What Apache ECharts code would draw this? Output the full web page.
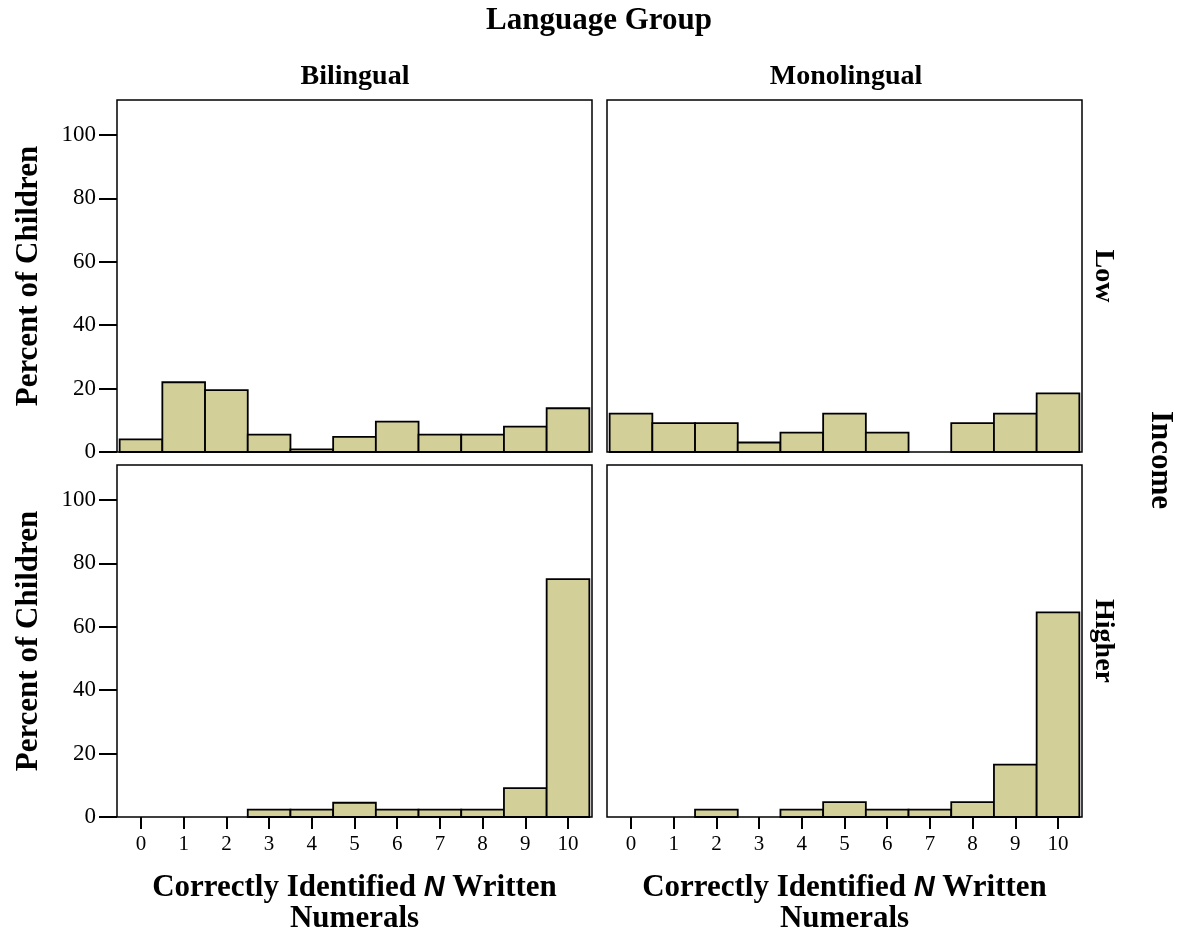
<!DOCTYPE html>
<html>
<head>
<meta charset="utf-8">
<script src="https://cdn.jsdelivr.net/npm/echarts@6/dist/echarts.min.js"></script>
<style>html,body{margin:0;padding:0;background:#fff;}#c{width:1177px;height:935px;}</style>
</head>
<body>
<div id="c"></div>
<script>
const categories = [0, 1, 2, 3, 4, 5, 6, 7, 8, 9, 10];
const bilingualLow = [4.0, 22.0, 19.5, 5.5, 0.8, 4.8, 9.6, 5.5, 5.5, 8.0, 13.8];
const monolingualLow = [12.1, 9.1, 9.1, 3.0, 6.1, 12.1, 6.1, 0, 9.1, 12.1, 18.5];
const bilingualHigher = [0, 0, 0, 2.3, 2.3, 4.5, 2.3, 2.3, 2.3, 9.1, 75.0];
const monolingualHigher = [0, 0, 2.3, 0, 2.3, 4.7, 2.3, 2.3, 4.7, 16.5, 64.5];
const yTicks = [0, 20, 40, 60, 80, 100];
const columnLabels = ['Bilingual', 'Monolingual'];
const rowLabels = ['Low', 'Higher'];

const SERIF = 'Liberation Serif';
const FILL = '#d3cf98';

const panels = [
  { data: bilingualLow, left: 117, top: 100, showY: true, showX: false },
  { data: monolingualLow, left: 607, top: 100, showY: false, showX: false },
  { data: bilingualHigher, left: 117, top: 465, showY: true, showX: true },
  { data: monolingualHigher, left: 607, top: 465, showY: false, showX: true }
];
const PW = 475, PH = 352;

const grids = [], xAxes = [], yAxes = [], series = [];
panels.forEach((p, i) => {
  grids.push({ left: p.left, top: p.top, width: PW, height: PH, show: true,
    borderColor: '#000', borderWidth: 1.5, backgroundColor: '#fff' });
  xAxes.push({
    type: 'value', gridIndex: i, min: -0.562, max: 10.562,
    axisLine: { show: false, onZero: false }, splitLine: { show: false },
    axisTick: { show: p.showX, length: 12, lineStyle: { color: '#000', width: 2 }, customValues: categories },
    axisLabel: { show: p.showX, customValues: categories, color: '#000', fontFamily: SERIF, fontSize: 21, margin: 17 },
    name: p.showX ? '{t|Correctly Identified }{n|N}{t| Written}\n{t|Numerals}' : '',
    nameLocation: 'middle', nameGap: 55,
    nameTextStyle: {
      rich: {
        t: { fontFamily: SERIF, fontWeight: 'bold', fontSize: 31, color: '#000', lineHeight: 31 },
        n: { fontFamily: 'Liberation Sans', fontWeight: 'bold', fontStyle: 'italic', fontSize: 29, color: '#000', lineHeight: 31 }
      }
    }
  });
  yAxes.push({
    type: 'value', gridIndex: i, min: 0, max: 111,
    axisLine: { show: false, onZero: false }, splitLine: { show: false },
    axisTick: { show: p.showY, length: 18, lineStyle: { color: '#000', width: 2 }, customValues: yTicks },
    axisLabel: { show: p.showY, customValues: yTicks, color: '#000', fontFamily: SERIF, fontSize: 23, margin: 21 },
    name: p.showY ? 'Percent of Children' : '',
    nameLocation: 'middle', nameRotate: 90, nameGap: 73,
    nameTextStyle: { fontFamily: SERIF, fontWeight: 'bold', fontSize: 31, color: '#000' }
  });
  series.push({
    type: 'custom', xAxisIndex: i, yAxisIndex: i,
    data: p.data.map((v, k) => [categories[k], v]),
    renderItem: function (params, api) {
      const x = api.value(0), v = api.value(1);
      if (!(v > 0)) return null;
      const a = api.coord([x - 0.5, v]);
      const b = api.coord([x + 0.5, 0]);
      return {
        type: 'rect',
        shape: { x: a[0], y: a[1], width: b[0] - a[0], height: b[1] - a[1] },
        style: { fill: FILL, stroke: '#000', lineWidth: 1.8 }
      };
    }
  });
});

const txt = (text, x, y, size, rot) => ({
  type: 'text', x: x, y: y, rotation: rot || 0,
  style: { text: text, fontFamily: SERIF, fontWeight: 'bold', fontSize: size, fill: '#000',
    textAlign: 'center', textVerticalAlign: 'middle' }
});

const chart = echarts.init(document.getElementById('c'), null, { renderer: 'canvas' });
chart.setOption({
  backgroundColor: '#fff',
  animation: false,
  grid: grids, xAxis: xAxes, yAxis: yAxes, series: series,
  graphic: [
    txt('Language Group', 599, 21, 31),
    txt(columnLabels[0], 355, 77, 28),
    txt(columnLabels[1], 846, 77, 28),
    txt(rowLabels[0], 1103, 276, 28, -Math.PI / 2),
    txt(rowLabels[1], 1103, 641, 28, -Math.PI / 2),
    txt('Income', 1160, 460, 31, -Math.PI / 2)
  ]
});
</script>
</body>
</html>
